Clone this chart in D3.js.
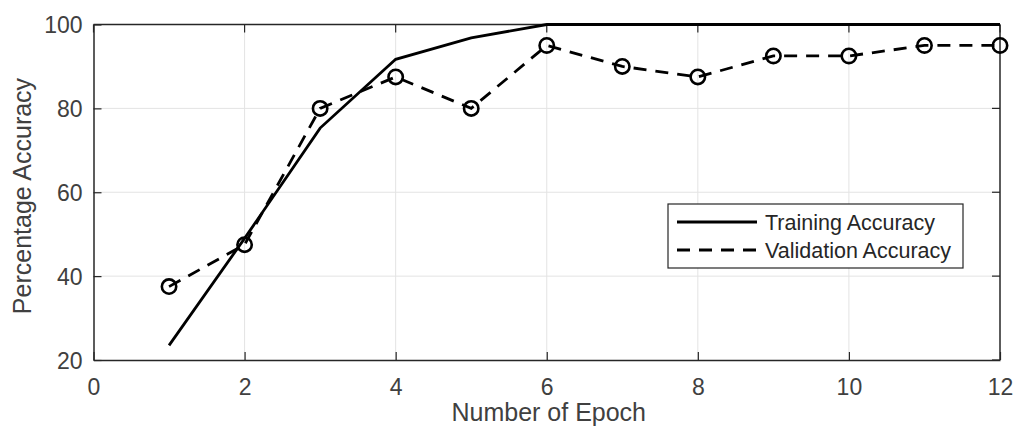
<!DOCTYPE html>
<html lang="en">
<head>
  <meta charset="UTF-8">
  <title>Accuracy</title>
  <style>
    * { margin: 0; padding: 0; }
    body { background: #fff; overflow: hidden; }
    svg { display: block; }
    text { font-family: "Liberation Sans", Arial, sans-serif; }
  </style>
</head>
<body>
  <script src="https://d3js.org/d3.v7.min.js"></script>
  <script>
    const epochs = [1, 2, 3, 4, 5, 6, 7, 8, 9, 10, 11, 12];
    const training = [23.5, 49, 75.3, 91.7, 96.8, 100, 100, 100, 100, 100, 100, 100];
    const validation = [37.5, 47.5, 80, 87.5, 80, 95, 90, 87.5, 92.5, 92.5, 95, 95];
    const xTicks = [0, 2, 4, 6, 8, 10, 12];
    const yTicks = [20, 40, 60, 80, 100];

    const width = 1015, height = 434;
    const padding = { left: 93.5, right: 15, top: 24.5, bottom: 74 };
    const innerWidth = width - padding.left - padding.right;
    const innerHeight = height - padding.top - padding.bottom;

    const xScale = d3.scaleLinear().domain([0, 12]).range([0, innerWidth]);
    const yScale = d3.scaleLinear().domain([20, 100]).range([innerHeight, 0]);

    const svg = d3.select('body').append('svg')
      .attr('width', width)
      .attr('height', height);

    const g = svg.append('g')
      .attr('transform', `translate(${padding.left}, ${padding.top})`);

    // grid
    g.append('g').selectAll('line')
      .data(xTicks.slice(1, -1))
      .enter().append('line')
      .attr('x1', d => xScale(d)).attr('x2', d => xScale(d))
      .attr('y1', 0).attr('y2', innerHeight)
      .attr('stroke', '#e3e3e3').attr('stroke-width', 1);
    g.append('g').selectAll('line')
      .data(yTicks.slice(1, -1))
      .enter().append('line')
      .attr('y1', d => yScale(d)).attr('y2', d => yScale(d))
      .attr('x1', 0).attr('x2', innerWidth)
      .attr('stroke', '#e3e3e3').attr('stroke-width', 1);

    // axes
    const xAxis = d3.axisBottom(xScale).tickValues(xTicks).tickSizeInner(-8).tickSizeOuter(0).tickPadding(19);
    const yAxis = d3.axisLeft(yScale).tickValues(yTicks).tickSizeInner(-8).tickSizeOuter(0).tickPadding(11);
    const xg = g.append('g').attr('transform', `translate(0, ${innerHeight})`).call(xAxis);
    const yg = g.append('g').call(yAxis);
    [xg, yg].forEach(a => {
      a.selectAll('path').attr('stroke', '#262626').attr('stroke-width', 1.5);
      a.selectAll('line').attr('stroke', '#262626').attr('stroke-width', 1.2);
      a.selectAll('text').attr('fill', '#404040').style('font-size', '23px')
        .style('font-family', '"Liberation Sans", Arial, sans-serif');
    });
    yg.selectAll('text').attr('dy', '0.36em');

    // right ticks and top/right border
    g.append('g').selectAll('line')
      .data(yTicks)
      .enter().append('line')
      .attr('x1', innerWidth - 8).attr('x2', innerWidth)
      .attr('y1', d => yScale(d)).attr('y2', d => yScale(d))
      .attr('stroke', '#262626').attr('stroke-width', 1.2);
    g.append('g').selectAll('line')
      .data(xTicks)
      .enter().append('line')
      .attr('x1', d => xScale(d)).attr('x2', d => xScale(d))
      .attr('y1', 0).attr('y2', 8)
      .attr('stroke', '#262626').attr('stroke-width', 1.2);
    g.append('line').attr('x1', 0).attr('x2', innerWidth).attr('y1', 0).attr('y2', 0)
      .attr('stroke', '#262626').attr('stroke-width', 1.5);
    g.append('line').attr('x1', innerWidth).attr('x2', innerWidth).attr('y1', 0).attr('y2', innerHeight)
      .attr('stroke', '#262626').attr('stroke-width', 1.5);

    // lines
    const line = d3.line().x((d, i) => xScale(epochs[i])).y(d => yScale(d));
    g.append('path').datum(training)
      .attr('d', line).attr('fill', 'none')
      .attr('stroke', '#000').attr('stroke-width', 2.8);
    g.append('path').datum(validation)
      .attr('d', line).attr('fill', 'none')
      .attr('stroke', '#000').attr('stroke-width', 2.8)
      .attr('stroke-dasharray', '13,9');
    g.append('g').selectAll('circle')
      .data(validation)
      .enter().append('circle')
      .attr('cx', (d, i) => xScale(epochs[i]))
      .attr('cy', d => yScale(d))
      .attr('r', 7.2)
      .attr('fill', 'none').attr('stroke', '#000').attr('stroke-width', 2.6);

    // axis titles
    svg.append('text')
      .attr('x', padding.left + innerWidth / 2 + 2).attr('y', 421)
      .attr('text-anchor', 'middle').attr('fill', '#404040')
      .style('font-size', '25px').text('Number of Epoch');
    svg.append('text')
      .attr('transform', `translate(31, 196) rotate(-90)`)
      .attr('text-anchor', 'middle').attr('fill', '#404040')
      .style('font-size', '25px').text('Percentage Accuracy');

    // legend
    const legend = svg.append('g').attr('transform', 'translate(668, 204)');
    legend.append('rect').attr('width', 295).attr('height', 64)
      .attr('fill', '#fff').attr('stroke', '#262626').attr('stroke-width', 1.2);
    const items = [
      { name: 'Training Accuracy', dash: null },
      { name: 'Validation Accuracy', dash: '13,9' },
    ];
    items.forEach((d, i) => {
      const y = 18 + i * 28;
      legend.append('line').attr('x1', 9).attr('x2', 89).attr('y1', y).attr('y2', y)
        .attr('stroke', '#000').attr('stroke-width', 2.8)
        .attr('stroke-dasharray', d.dash);
      legend.append('text').attr('x', 97).attr('y', y).attr('dy', '0.36em')
        .attr('fill', '#262626').style('font-size', '21.5px').text(d.name);
    });
  </script>
</body>
</html>
